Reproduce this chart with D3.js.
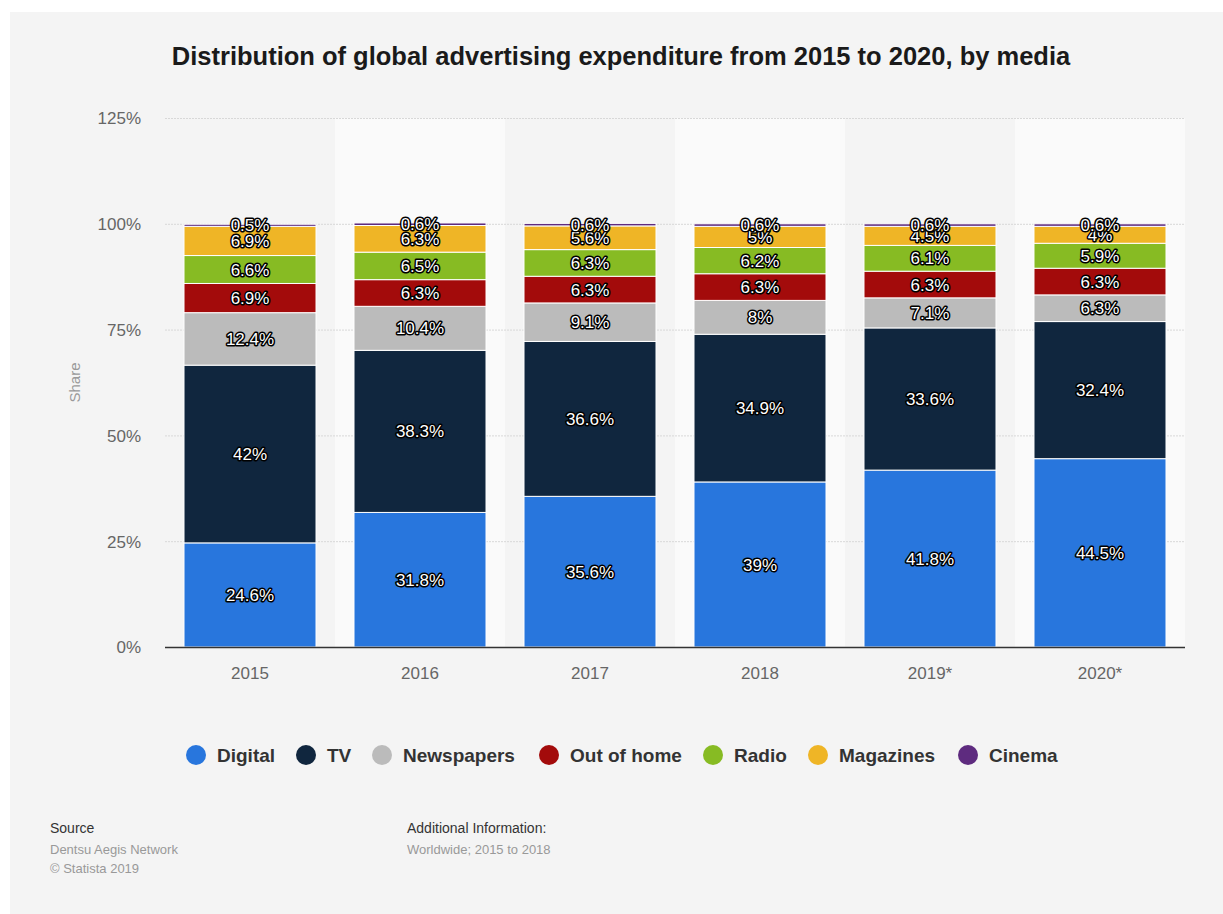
<!DOCTYPE html>
<html>
<head>
<meta charset="utf-8">
<script src="https://cdn.jsdelivr.net/npm/d3@7"></script>
<style>
  html, body { margin: 0; padding: 0; background: #ffffff; }
  svg { display: block; font-family: "Liberation Sans", Arial, sans-serif; }
</style>
</head>
<body>
<svg id="chart" width="1223" height="914"></svg>
<script>
// Years on the x axis
const years = ["2015", "2016", "2017", "2018", "2019*", "2020*"];

// Share of global ad spend per medium (%), one value per year
const digital    = [24.6, 31.8, 35.6, 39.0, 41.8, 44.5];
const tv         = [42.0, 38.3, 36.6, 34.9, 33.6, 32.4];
const newspapers = [12.4, 10.4, 9.1, 8.0, 7.1, 6.3];
const outOfHome  = [6.9, 6.3, 6.3, 6.3, 6.3, 6.3];
const radio      = [6.6, 6.5, 6.3, 6.2, 6.1, 5.9];
const magazines  = [6.9, 6.3, 5.6, 5.0, 4.5, 4.0];
const cinema     = [0.5, 0.6, 0.6, 0.6, 0.6, 0.6];

const seriesNames = ["Digital", "TV", "Newspapers", "Out of home", "Radio", "Magazines", "Cinema"];
const seriesValues = [digital, tv, newspapers, outOfHome, radio, magazines, cinema];
const seriesColors = ["#2876dd", "#10263e", "#bbbbbb", "#a30b0b", "#87bb23", "#efb526", "#5e2b7f"];

const yTicks = [0, 25, 50, 75, 100, 125];

const svg = d3.select("#chart");

// Panel background
svg.append("rect").attr("x", 10).attr("y", 12).attr("width", 1213).attr("height", 902).attr("fill", "#f4f4f4");

// Title
svg.append("text")
  .attr("x", 621).attr("y", 65)
  .attr("text-anchor", "middle")
  .attr("font-size", 25.5).attr("font-weight", "bold").attr("fill", "#1a1a1a")
  .text("Distribution of global advertising expenditure from 2015 to 2020, by media");

const plot = { left: 165, right: 1185, top: 118, bottom: 647 };

const x = d3.scaleBand().domain(years).range([plot.left, plot.right])
  .paddingInner(0.2235).paddingOuter(0.1118);
const xCol = d3.scaleBand().domain(years).range([plot.left, plot.right]).padding(0);
const y = d3.scaleLinear().domain([0, 125]).range([plot.bottom, plot.top]);

// Alternating column shading
svg.append("g").selectAll("rect")
  .data(years.filter((d, i) => i % 2 === 1))
  .join("rect")
  .attr("x", d => xCol(d)).attr("y", plot.top)
  .attr("width", xCol.bandwidth()).attr("height", plot.bottom - plot.top)
  .attr("fill", "#fafafa");

// Dotted horizontal grid
svg.append("g").selectAll("line")
  .data(yTicks.filter(t => t > 0))
  .join("line")
  .attr("x1", plot.left).attr("x2", plot.right)
  .attr("y1", d => y(d) + 0.5).attr("y2", d => y(d) + 0.5)
  .attr("stroke", "#d8d8d8").attr("stroke-width", 1).attr("stroke-dasharray", "2,1");

// Y axis
const yAxis = svg.append("g")
  .attr("transform", `translate(${plot.left - 24},0)`)
  .call(d3.axisLeft(y).tickValues(yTicks).tickFormat(d => d + "%").tickSize(0));
yAxis.select(".domain").remove();
yAxis.selectAll("text").attr("font-size", 17).attr("fill", "#666").attr("font-family", "Liberation Sans, Arial, sans-serif").attr("dy", "0.35em").attr("x", 0);

svg.append("text")
  .attr("transform", `translate(80,${(plot.top + plot.bottom) / 2}) rotate(-90)`)
  .attr("text-anchor", "middle")
  .attr("font-size", 15).attr("fill", "#999")
  .text("Share");

// Stacked data
const table = years.map((yr, i) => {
  const row = { year: yr };
  seriesNames.forEach((s, k) => { row[s] = seriesValues[k][i]; });
  return row;
});
const stacked = d3.stack().keys(seriesNames)(table);

const layers = svg.append("g").selectAll("g")
  .data(stacked)
  .join("g")
  .attr("fill", (d, i) => seriesColors[i]);

layers.selectAll("rect")
  .data(d => d)
  .join("rect")
  .attr("x", d => x(d.data.year))
  .attr("y", d => y(d[1]))
  .attr("width", x.bandwidth())
  .attr("height", d => y(d[0]) - y(d[1]))
  .attr("stroke", "#ffffff").attr("stroke-width", 1);

// X axis baseline and labels
svg.append("line")
  .attr("x1", plot.left).attr("x2", plot.right)
  .attr("y1", plot.bottom + 0.5).attr("y2", plot.bottom + 0.5)
  .attr("stroke", "#333").attr("stroke-width", 1.5);

const xAxis = svg.append("g")
  .attr("transform", `translate(0,${plot.bottom})`)
  .call(d3.axisBottom(x).tickSize(0).tickPadding(20));
xAxis.select(".domain").remove();
xAxis.selectAll("text").attr("font-size", 17).attr("fill", "#666").attr("font-family", "Liberation Sans, Arial, sans-serif");

// Value labels: white text with dark outline
const labelG = svg.append("g");
stacked.forEach((layer, k) => {
  labelG.selectAll(null)
    .data(layer)
    .join("text")
    .attr("x", d => x(d.data.year) + x.bandwidth() / 2)
    .attr("y", d => y((d[0] + d[1]) / 2))
    .attr("dy", "0.36em")
    .attr("text-anchor", "middle")
    .attr("font-size", 17)
    .attr("fill", "#ffffff")
    .attr("stroke", "#000000").attr("stroke-width", 3).attr("stroke-linejoin", "round")
    .attr("paint-order", "stroke")
    .text(d => seriesValues[k][years.indexOf(d.data.year)] + "%");
});

// Legend
const legendX = [196, 306, 382, 549, 713, 818, 968];
const legend = svg.append("g").selectAll("g")
  .data(seriesNames)
  .join("g")
  .attr("transform", (d, i) => `translate(${legendX[i]},755)`);
legend.append("circle").attr("r", 10).attr("fill", (d, i) => seriesColors[i]);
legend.append("text")
  .attr("x", 21).attr("dy", "0.36em")
  .attr("font-size", 19).attr("font-weight", "bold").attr("fill", "#333")
  .text(d => d);

// Footer
const foot = svg.append("g").attr("font-size", 14);
foot.append("text").attr("x", 50).attr("y", 833).attr("fill", "#333").text("Source");
foot.append("text").attr("x", 50).attr("y", 854).attr("fill", "#999").attr("font-size", 13).text("Dentsu Aegis Network");
foot.append("text").attr("x", 50).attr("y", 873).attr("fill", "#999").attr("font-size", 13).text("© Statista 2019");
foot.append("text").attr("x", 407).attr("y", 833).attr("fill", "#333").text("Additional Information:");
foot.append("text").attr("x", 407).attr("y", 854).attr("fill", "#999").attr("font-size", 13).text("Worldwide; 2015 to 2018");
</script>
</body>
</html>
